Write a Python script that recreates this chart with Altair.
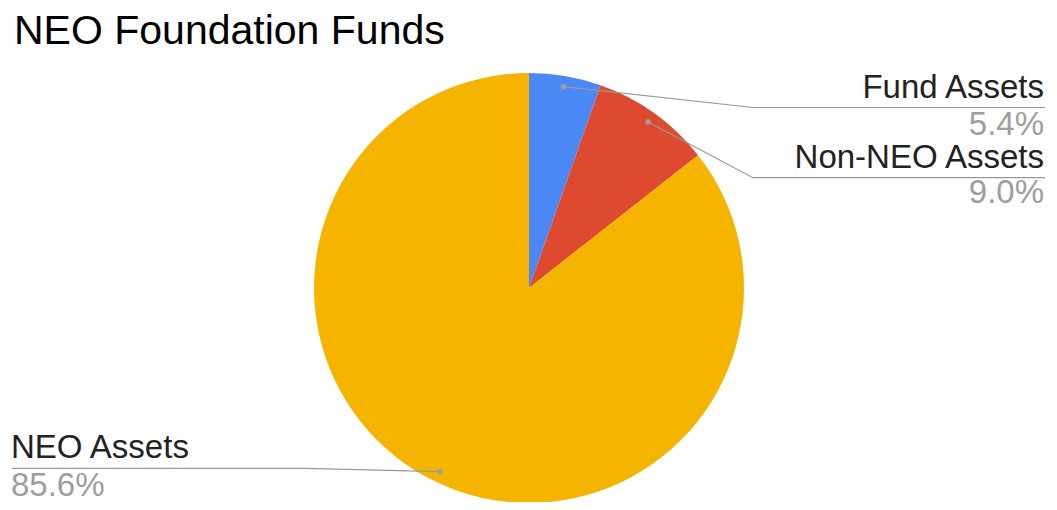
import math
import altair as alt
import pandas as pd

# ---------------- data ----------------
labels = ["Fund Assets", "Non-NEO Assets", "NEO Assets"]
shares = [5.4, 9.0, 85.6]
pct_text = ["5.4%", "9.0%", "85.6%"]
title_text = "NEO Foundation Funds"

# ---------------- styles ----------------
colors = ["#4A89F5", "#DE4A2F", "#F4B400"]
FONT = "Liberation Sans"
LABEL_SIZE = 33

# ---------------- layout (plot pixels) ----------------
W, H = 1041, 494
CX, CY, R = 521, 280, 215          # pie centre and radius
ANCHOR_FRAC = 0.95
label_x = [1036, 1036, 3]
label_align = ["right", "right", "left"]
name_y = [90, 160, 450]
pct_y = [127, 195, 488]
line_y = [99.5, 169.7, 460.3]
elbow_x = [745, 745, 297]
end_x = [1037, 1037, 4]
title_pos = (6, 36)


def ux(px):
    return (px - CX) / R


def uy(py):
    return (CY - py) / R


xs = alt.Scale(domain=[ux(0), ux(W)], range=[0, W])
ys = alt.Scale(domain=[uy(H), uy(0)])

pie_df = pd.DataFrame({"label": labels, "value": shares, "idx": range(len(labels))})

# anchors from the data (mid angle of each slice, clockwise from 12 o'clock)
total = sum(shares)
cum = 0.0
rows_line, rows_pt, rows_txt = [], [], []
for i, (lab, v) in enumerate(zip(labels, shares)):
    mid = (cum + v / 2) / total * 2 * math.pi
    cum += v
    ax = ANCHOR_FRAC * math.sin(mid)
    ay = ANCHOR_FRAC * math.cos(mid)
    rows_pt.append({"label": lab, "x": ax, "y": ay})
    pts = [(ax, ay), (ux(elbow_x[i]), uy(line_y[i])), (ux(end_x[i]), uy(line_y[i]))]
    for s, (px, py) in enumerate(pts):
        rows_line.append({"label": lab, "seq": s, "x": px, "y": py})
    rows_txt.append({"label": lab, "pct": pct_text[i], "x": ux(label_x[i]),
                     "ny": uy(name_y[i]), "py": uy(pct_y[i]), "align": label_align[i]})

line_df = pd.DataFrame(rows_line)
pt_df = pd.DataFrame(rows_pt)
txt_df = pd.DataFrame(rows_txt)

pie = alt.Chart(pie_df).mark_arc(radius=R, stroke=None).encode(
    theta=alt.Theta("value:Q", stack=True),
    order=alt.Order("idx:Q"),
    color=alt.Color("label:N", scale=alt.Scale(domain=labels, range=colors), legend=None),
    x=alt.XDatum(0, type="quantitative", scale=xs, axis=None),
    y=alt.YDatum(0, type="quantitative", scale=ys, axis=None),
)

leaders = alt.Chart(line_df).mark_line(color="#999999", strokeWidth=1.2).encode(
    x=alt.X("x:Q", scale=xs, axis=None),
    y=alt.Y("y:Q", scale=ys, axis=None),
    detail="label:N",
    order="seq:Q",
)

dots = alt.Chart(pt_df).mark_circle(size=30, color="#9e9e9e", opacity=1).encode(
    x=alt.X("x:Q", scale=xs, axis=None),
    y=alt.Y("y:Q", scale=ys, axis=None),
)

layers = [pie, leaders, dots]
for al in ["right", "left"]:
    sub = txt_df[txt_df["align"] == al]
    names = alt.Chart(sub).mark_text(align=al, baseline="alphabetic", font=FONT,
                                     fontSize=LABEL_SIZE, color="#222222").encode(
        x=alt.X("x:Q", scale=xs, axis=None),
        y=alt.Y("ny:Q", scale=ys, axis=None),
        text="label:N",
    )
    pcts = alt.Chart(sub).mark_text(align=al, baseline="alphabetic", font=FONT,
                                    fontSize=LABEL_SIZE, color="#9e9e9e").encode(
        x=alt.X("x:Q", scale=xs, axis=None),
        y=alt.Y("py:Q", scale=ys, axis=None),
        text="pct:N",
    )
    layers += [names, pcts]

title = alt.Chart(pd.DataFrame({"t": [title_text], "x": [ux(title_pos[0])], "y": [uy(title_pos[1])]})).mark_text(
    align="left", baseline="alphabetic", font=FONT, fontSize=41, color="#000000"
).encode(
    x=alt.X("x:Q", scale=xs, axis=None),
    y=alt.Y("y:Q", scale=ys, axis=None),
    text="t:N",
)
layers.append(title)

chart = alt.layer(*layers).properties(
    width=W, height=H,
    autosize=alt.AutoSizeParams(type="none"),
    padding=0,
).configure_view(stroke=None)

chart.save("out.html", embed_options={"renderer": "svg", "actions": False})
